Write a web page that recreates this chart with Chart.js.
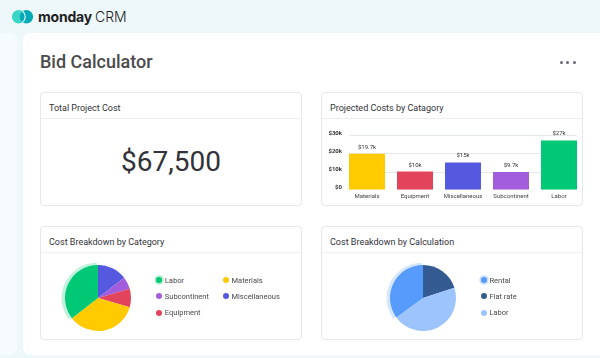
<!DOCTYPE html>
<html>
<head>
<meta charset="utf-8">
<script src="https://cdn.jsdelivr.net/npm/chart.js@4.4.0/dist/chart.umd.min.js"></script>
<style>
  html, body { margin: 0; padding: 0; }
  body { width: 600px; height: 358px; position: relative; overflow: hidden; background: #eef8fa; font-family: Roboto, "Noto Sans", sans-serif; }
  .abs { position: absolute; }
  .sidebar { left: 0; top: 33px; width: 17px; height: 322px; background: #f6fcfd; border-radius: 0 6px 6px 0; }
  .main { left: 23px; top: 33px; width: 600px; height: 322px; background: #fff; border-radius: 8px 0 0 8px; }
  .brand { left: 38px; top: 7px; height: 20px; line-height: 20px; font-size: 14px; color: #1f1f1f; font-family: Inter, Roboto, sans-serif; }
  .brand b { font-weight: 700; letter-spacing: -0.2px; }
  .brand span { font-weight: 300; margin-left: 3px; }
  .page-title { left: 40px; top: 51px; height: 22px; line-height: 22px; font-size: 18px; font-weight: 500; color: #4b4b4b; }
  .card { position: absolute; box-sizing: border-box; width: 262px; height: 114px; background: #fff; border: 1px solid #e6e8ef; border-radius: 4px; }
  .card .hd { height: 26px; box-sizing: border-box; border-bottom: 1px solid #eceef4; padding-left: 8px; line-height: 30px; font-size: 9px; color: #323338; }
  .total { position: absolute; left: 0; right: 0; top: 26px; bottom: 0; display: flex; align-items: center; justify-content: center; font-size: 28px; color: #323338; padding-bottom: 1px; }
  canvas { position: absolute; }
  .lg { position: absolute; height: 10px; display: flex; align-items: center; font-size: 7.5px; color: #4a4a4a; white-space: nowrap; }
  .lg i { display: inline-block; width: 6px; height: 6px; border-radius: 50%; margin-right: 2.5px; }
  .dot { position: absolute; width: 3px; height: 3px; border-radius: 50%; background: #676879; top: 61px; }
</style>
</head>
<body>
<div class="abs sidebar"></div>
<div class="abs main"></div>

<svg class="abs" style="left:10px;top:8px" width="26" height="18" viewBox="0 0 26 18">
  <circle cx="8.6" cy="8.7" r="6.7" fill="#3bd5c6"/>
  <circle cx="16.4" cy="8.7" r="6.7" fill="#04a9b8"/>
  <path d="M12.5 3.3 A6.7 6.7 0 0 1 12.5 14.1" stroke="#dff7f6" stroke-width="1.2" fill="none"/>
</svg>
<div class="abs brand"><b>monday</b><span>CRM</span></div>

<div class="abs page-title">Bid Calculator</div>
<div class="dot" style="left:559.5px"></div>
<div class="dot" style="left:566px"></div>
<div class="dot" style="left:572.5px"></div>

<div class="card" style="left:40px;top:92px"><div class="hd">Total Project Cost</div><div class="total" id="total"></div></div>
<div class="card" style="left:321px;top:92px"><div class="hd">Projected Costs by Catagory</div></div>
<div class="card" style="left:40px;top:226px"><div class="hd">Cost Breakdown by Category</div></div>
<div class="card" style="left:321px;top:226px"><div class="hd">Cost Breakdown by Calculation</div></div>

<canvas id="bars" width="262" height="87" style="left:321px;top:119px"></canvas>
<canvas id="pieCat" width="80" height="80" style="left:58px;top:258px"></canvas>
<canvas id="pieCalc" width="80" height="80" style="left:383px;top:258px"></canvas>
<div id="legends"></div>

<script>
// ===== Data =====
const totalCost = 67500;

const barCategories = ['Materials', 'Equipment', 'Miscellaneous', 'Subcontinent', 'Labor'];
const barValues = [19700, 10000, 15000, 9700, 27000];
const barColors = ['#ffcb00', '#e2445c', '#5559df', '#a25ddc', '#00c875'];
const yTicks = [0, 10000, 20000, 30000];

// pie slices, clockwise from 12 o'clock
const catSlices = ['Miscellaneous', 'Subcontinent', 'Equipment', 'Materials', 'Labor'];
const catShares = [14.5, 6, 9, 35, 35.5];
const catColors = ['#5559df', '#a25ddc', '#e2445c', '#ffcb00', '#00c875'];
const catLegend = ['Labor', 'Materials', 'Subcontinent', 'Miscellaneous', 'Equipment'];

const calcSlices = ['Flat rate', 'Labor', 'Rental'];
const calcShares = [20, 45, 35];
const calcColors = ['#345a92', '#9ec4fd', '#579bfc'];
const calcLegend = ['Rental', 'Flat rate', 'Labor'];

Chart.defaults.font.family = 'Roboto';
Chart.defaults.animation = false;

document.getElementById('total').textContent = '$' + totalCost.toLocaleString('en-US');

const kLabel = v => v === 0 ? '$0' : '$' + (+(v / 1000).toFixed(1)) + 'k';

// ===== Plugins =====
const barGrid = {
  id: 'barGrid',
  beforeDatasetsDraw(chart) {
    const bars = chart.getDatasetMeta(0).data;
    const first = bars[0], last = bars[bars.length - 1];
    const left = first.x - first.width / 2, right = last.x + last.width / 2;
    const ctx = chart.ctx;
    ctx.save();
    ctx.strokeStyle = '#e6e8ef';
    ctx.lineWidth = 1;
    yTicks.filter(v => v > 0).forEach(v => {
      const y = Math.round(chart.scales.y.getPixelForValue(v)) + 0.5;
      ctx.beginPath(); ctx.moveTo(left, y); ctx.lineTo(right, y); ctx.stroke();
    });
    ctx.restore();
  }
};

const barValueLabels = {
  id: 'barValueLabels',
  afterDatasetsDraw(chart) {
    const ctx = chart.ctx;
    ctx.save();
    ctx.font = '6px Roboto';
    ctx.fillStyle = '#333';
    ctx.textAlign = 'center';
    ctx.textBaseline = 'middle';
    chart.getDatasetMeta(0).data.forEach((bar, i) => {
      ctx.fillText(kLabel(barValues[i]), bar.x, bar.y - 6.5);
    });
    ctx.restore();
  }
};

// soft halo behind the highlighted slice
const sliceHalo = {
  id: 'sliceHalo',
  beforeDatasetsDraw(chart, args, opts) {
    const arc = chart.getDatasetMeta(0).data[opts.index];
    if (!arc) return;
    const ctx = chart.ctx;
    const cx = arc.x - 1.2, cy = arc.y;
    ctx.save();
    ctx.fillStyle = opts.color;
    ctx.beginPath();
    ctx.moveTo(cx, cy);
    ctx.arc(cx, cy, arc.outerRadius + 2.2, arc.startAngle, arc.endAngle);
    ctx.closePath();
    ctx.fill();
    ctx.restore();
  }
};

// ===== Bar chart =====
new Chart(document.getElementById('bars'), {
  type: 'bar',
  data: {
    labels: barCategories,
    datasets: [{ data: barValues, backgroundColor: barColors, barPercentage: 0.75, categoryPercentage: 1 }]
  },
  options: {
    responsive: false,
    devicePixelRatio: 1,
    layout: { padding: { top: 16, bottom: 3, left: 0, right: 0 } },
    plugins: { legend: { display: false }, tooltip: { enabled: false } },
    scales: {
      x: {
        grid: { display: false, drawTicks: false },
        border: { display: false },
        ticks: { font: { size: 6 }, color: '#444', padding: 3, maxRotation: 0 }
      },
      y: {
        min: 0, max: 30000,
        afterBuildTicks: s => { s.ticks = yTicks.map(v => ({ value: v })); },
        afterFit: s => { s.width = 22; },
        grid: { display: false, drawTicks: false },
        border: { display: false },
        ticks: { callback: v => kLabel(v), font: { size: 6, weight: 'bold' }, color: '#333', padding: 1, labelOffset: -2 }
      }
    }
  },
  plugins: [barGrid, barValueLabels]
});

// ===== Pies =====
function makePie(id, labels, values, colors, haloIndex, haloColor) {
  new Chart(document.getElementById(id), {
    type: 'pie',
    data: { labels, datasets: [{ data: values, backgroundColor: colors, borderWidth: 0 }] },
    options: {
      responsive: false,
      devicePixelRatio: 1,
      layout: { padding: 7 },
      plugins: {
        legend: { display: false },
        tooltip: { enabled: false },
        sliceHalo: { index: haloIndex, color: haloColor }
      }
    },
    plugins: [sliceHalo]
  });
}
makePie('pieCat', catSlices, catShares, catColors, catSlices.indexOf('Labor'), 'rgba(0,200,117,0.25)');
makePie('pieCalc', calcSlices, calcShares, calcColors, calcSlices.indexOf('Rental'), 'rgba(87,155,252,0.25)');

// ===== HTML legends =====
function makeLegend(items, slices, colors, cols, halo, haloColor) {
  const box = document.getElementById('legends');
  const rowY = [280, 296.3, 312.7];
  items.forEach((name, i) => {
    const el = document.createElement('div');
    el.className = 'lg';
    el.style.left = cols[i % cols.length] + 'px';
    el.style.top = (rowY[Math.floor(i / cols.length)] - 5) + 'px';
    const dot = document.createElement('i');
    dot.style.background = colors[slices.indexOf(name)];
    if (name === halo) dot.style.boxShadow = '0 0 0 1.8px ' + haloColor;
    el.appendChild(dot);
    el.appendChild(document.createTextNode(name));
    box.appendChild(el);
  });
}
makeLegend(catLegend, catSlices, catColors, [156.3, 223], 'Labor', 'rgba(0,200,117,0.3)');
makeLegend(calcLegend, calcSlices, calcColors, [481], 'Rental', 'rgba(87,155,252,0.3)');
</script>
</body>
</html>
